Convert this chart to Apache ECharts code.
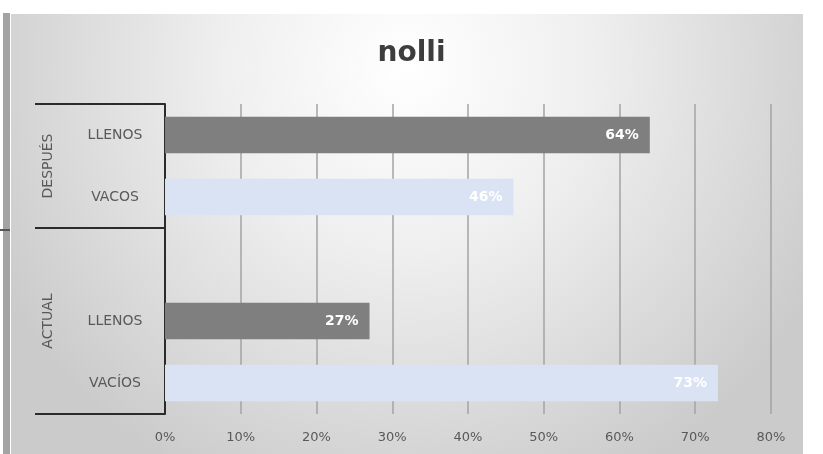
<!DOCTYPE html>
<html>
<head>
<meta charset="utf-8">
<script src="https://cdn.jsdelivr.net/npm/echarts@6.0.0/dist/echarts.min.js"></script>
<style>
html,body{margin:0;padding:0;background:#ffffff;}
#chart{width:823px;height:454px;}
</style>
</head>
<body>
<div id="chart"></div>
<script>
// ---- data ----
const title = 'nolli';
const categories = ['LLENOS', 'VACOS', '', 'LLENOS', 'VACÍOS'];
const values = [0.64, 0.46, null, 0.27, 0.73];
const groupNames = ['DESPUÉS', 'ACTUAL'];
const groupStart = [0, 2];
const groupEnd = [2, 5];
const xTickLabels = ['0%', '10%', '20%', '30%', '40%', '50%', '60%', '70%', '80%'];

// ---- styles ----
const barColors = { 'LLENOS': '#7f7f7f', 'default': '#dae3f3' };
const FONT = '"DejaVu Sans", sans-serif';

const chart = echarts.init(document.getElementById('chart'), null, { renderer: 'canvas' });

const groupCenters = groupNames.map((g, i) => (groupStart[i] + groupEnd[i]) / 2);
const groupTickStarts = groupStart.slice();

chart.setOption({
  animation: false,
  backgroundColor: '#ffffff',
  graphic: [
    {
      type: 'rect', z: -10, silent: true,
      shape: { x: 11, y: 14, width: 792, height: 440 },
      style: {
        fill: {
          type: 'radial', x: 0.5, y: 0.12, r: 1.05,
          colorStops: [
            { offset: 0, color: '#ffffff' },
            { offset: 0.4, color: '#efefef' },
            { offset: 1, color: '#cbcbcb' }
          ]
        }
      }
    },
    { type: 'rect', z: -10, silent: true, shape: { x: 3, y: 13, width: 7, height: 441 }, style: { fill: '#a3a3a3' } },
    { type: 'line', z: -10, silent: true, shape: { x1: 0, y1: 230, x2: 10, y2: 230 }, style: { stroke: '#555555', lineWidth: 2 } }
  ],
  title: {
    text: title,
    left: 'center',
    top: 35,
    textStyle: { fontFamily: FONT, fontSize: 28, fontWeight: 'bold', color: '#3d3d3d' }
  },
  grid: { left: 165, right: 52, top: 104, bottom: 40, containLabel: false },
  xAxis: {
    type: 'value',
    min: 0, max: 0.8, interval: 0.1,
    axisLine: { show: false },
    axisTick: { show: false },
    splitLine: { show: true, lineStyle: { color: '#a3a3a3', width: 1.5 } },
    axisLabel: {
      margin: 17,
      color: '#595959', fontFamily: FONT, fontSize: 13,
      formatter: (v) => xTickLabels[Math.round(v * 10)]
    }
  },
  yAxis: [
    {
      type: 'category',
      inverse: true,
      position: 'left',
      data: categories,
      axisLine: { show: true, lineStyle: { color: '#2b2b2b', width: 2 } },
      axisTick: {
        show: true, length: 130, inside: false,
        interval: (idx) => groupTickStarts.indexOf(idx) >= 0,
        lineStyle: { color: '#2b2b2b', width: 2 }
      },
      axisLabel: {
        interval: 0,
        margin: 50, align: 'center',
        color: '#595959', fontFamily: FONT, fontSize: 14
      },
      splitLine: { show: false }
    },
    {
      type: 'value',
      inverse: true,
      position: 'left',
      min: 0, max: categories.length, interval: 0.5,
      axisLine: { show: false },
      axisTick: { show: false },
      splitLine: { show: false },
      axisLabel: {
        rotate: 90,
        margin: 110,
        color: '#595959', fontFamily: FONT, fontSize: 14,
        formatter: (v) => {
          const i = groupCenters.indexOf(v);
          return i >= 0 ? groupNames[i] : '';
        }
      }
    }
  ],
  series: [
    {
      type: 'bar',
      yAxisIndex: 0,
      data: values,
      barWidth: '59%',
      itemStyle: {
        color: (p) => barColors[categories[p.dataIndex]] || barColors['default']
      },
      label: {
        show: true,
        position: 'insideRight',
        distance: 11,
        color: '#ffffff', fontFamily: FONT, fontSize: 14, fontWeight: 'bold',
        formatter: (p) => Math.round(p.value * 100) + '%'
      }
    }
  ]
});
</script>
</body>
</html>
